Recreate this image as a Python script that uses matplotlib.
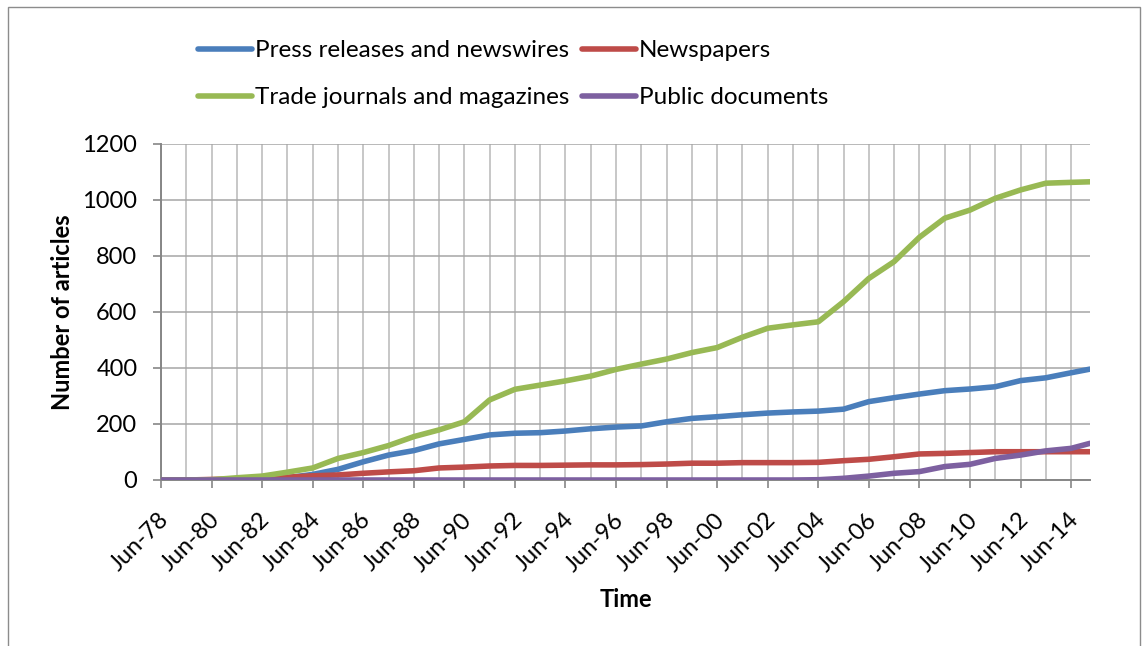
"""Cumulative article counts by source type, 1978-2015."""

from datetime import datetime

import matplotlib
matplotlib.use("Agg")
import matplotlib.pyplot as plt
import matplotlib.dates as mdates
import matplotlib.transforms as mtransforms
from matplotlib.patches import Rectangle

plt.rcParams["font.family"] = ["Lato", "DejaVu Sans"]

# Sample dates: every June from 1978 to 2014, plus the last month of data
dates = [datetime(1978 + i, 6, 1) for i in range(37)] + [datetime(2015, 3, 1)]

press = [0, 0, 0, 0, 2, 8, 20, 38, 65, 89, 105, 129, 145, 161, 167, 169, 175,
         183, 189, 193, 208, 220, 226, 233, 239, 243, 246, 253, 280, 294, 307,
         319, 325, 333, 355, 365, 383, 396]
newspapers = [0, 0, 2, 4, 7, 10, 15, 18, 24, 29, 33, 43, 46, 50, 52, 52, 53,
              54, 54, 55, 57, 60, 60, 62, 62, 62, 63, 69, 74, 83, 93, 95, 98,
              101, 101, 101, 101, 101]
trade = [0, 0, 1, 8, 14, 28, 43, 77, 98, 123, 155, 179, 208, 286, 324, 339,
         354, 371, 395, 414, 432, 455, 473, 510, 542, 554, 565, 637, 720, 780,
         867, 935, 964, 1006, 1036, 1060, 1063, 1065]
public = [0, 0, 0, 0, 0, 0, 0, 0, 0, 0, 0, 0, 0, 0, 0, 0, 0, 0, 0, 0, 0, 0, 0,
          0, 0, 0, 1, 6, 14, 24, 30, 48, 56, 77, 89, 104, 113, 131]

SERIES = [
    ("Press releases and newswires", press, "#4A7EBB"),
    ("Newspapers", newspapers, "#BE4B48"),
    ("Trade journals and magazines", trade, "#98B954"),
    ("Public documents", public, "#7D60A0"),
]

W, H = 1142, 646
fig = plt.figure(figsize=(W / 100, H / 100), dpi=100)
ax = fig.add_axes([161 / W, 1 - 480 / H, (1090 - 161) / W, (480 - 144) / H])

lines = {}
for label, values, color in SERIES:
    (ln,) = ax.plot(dates, values, color=color, linewidth=4,
                    solid_capstyle="round", label=label, zorder=3)
    lines[label] = ln

ax.set_xlim(datetime(1978, 6, 1), datetime(2015, 3, 1))
ax.set_ylim(0, 1200)
ax.set_yticks(range(0, 1201, 200))

ax.xaxis.set_major_locator(mdates.YearLocator(base=2, month=6, day=1))
ax.xaxis.set_minor_locator(mdates.YearLocator(base=1, month=6, day=1))
ax.xaxis.set_major_formatter(mdates.DateFormatter("%b-%y"))

ax.grid(True, which="both", axis="x", color="#b8b8b8", linewidth=1.1, zorder=1)
ax.grid(True, which="major", axis="y", color="#a6a6a6", linewidth=1.1, zorder=1)
ax.set_axisbelow(True)

for side in ("top", "right"):
    ax.spines[side].set_visible(False)
for side in ("left", "bottom"):
    ax.spines[side].set_color("#868686")
    ax.spines[side].set_linewidth(1.4)

ax.tick_params(axis="y", which="major", length=6, width=1.2, color="#868686",
               labelsize=17, pad=11)
ax.tick_params(axis="x", which="major", length=6, width=1.2, color="#868686",
               labelsize=17, pad=15)
ax.tick_params(axis="x", which="minor", length=0)
# nudge the slanted date labels a few pixels to the left
shift = mtransforms.ScaledTranslation(-3 / 100, 0, fig.dpi_scale_trans)
for lbl in ax.get_xticklabels():
    lbl.set_rotation(45)
    lbl.set_ha("right")
    lbl.set_va("top")
    lbl.set_rotation_mode("anchor")
    lbl.set_transform(lbl.get_transform() + shift)

ax.set_ylabel("Number of articles", fontsize=17, fontweight="bold", labelpad=6)
ax.set_xlabel("Time", fontsize=17, fontweight="bold", labelpad=9)

order = ["Press releases and newswires", "Trade journals and magazines",
         "Newspapers", "Public documents"]
fig.legend([lines[k] for k in order], order, ncol=2, frameon=False,
           loc="upper left", bbox_to_anchor=(186 / W, 1 - 28 / H),
           fontsize=17.5, borderpad=0, handlelength=2.2, handletextpad=0.12,
           columnspacing=0.55, labelspacing=1.08)

# chart-area border
fig.patches.append(Rectangle((8 / W, -0.02), (1140 - 8) / W, 1 - 7 / H + 0.02,
                             transform=fig.transFigure, fill=False,
                             edgecolor="#8c8c8c", linewidth=1))

fig.savefig("out.png", dpi=100)
